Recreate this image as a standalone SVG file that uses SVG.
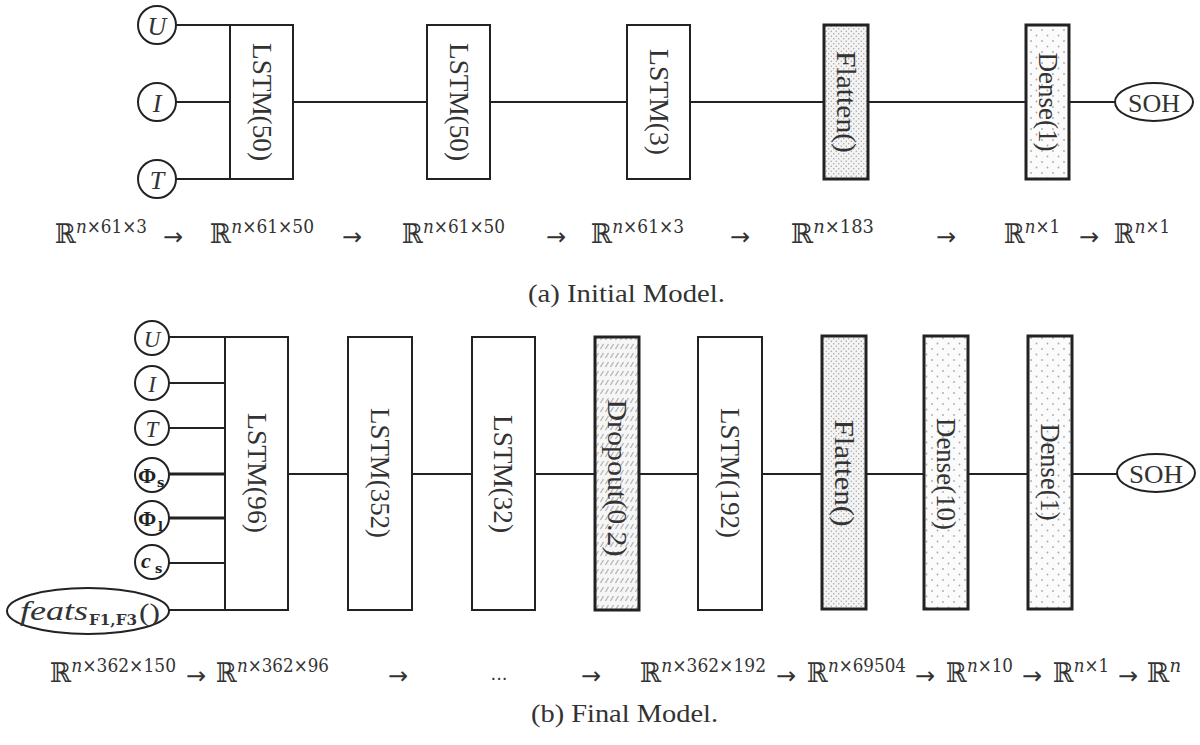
<svg xmlns="http://www.w3.org/2000/svg" width="1200" height="745" viewBox="0 0 1200 745">
<defs>
<style>
.box{fill:#fff;stroke:#222;stroke-width:2}
.thick{stroke-width:3}
.ln{stroke:#222;stroke-width:2;fill:none}
.lnb{stroke:#222;stroke-width:3.2;fill:none}
.circ{fill:#fff;stroke:#222;stroke-width:2}
.lbl{font-family:"Liberation Serif",serif;font-size:27px;fill:#333;text-anchor:middle;dominant-baseline:central}
.var{font-family:"Liberation Serif",serif;font-style:italic;font-size:26px;fill:#333;text-anchor:middle;dominant-baseline:central}
.soh{font-family:"Liberation Serif",serif;font-size:26px;fill:#333;text-anchor:middle;dominant-baseline:central}
.m{font-family:"DejaVu Serif",serif;font-size:18px;fill:#333}
.bb{font-family:"DejaVu Serif","DejaVu Sans",serif;font-size:27px}
.arr{font-family:"DejaVu Sans",sans-serif;font-size:24px;fill:#333;text-anchor:middle}
.cap{font-family:"Liberation Serif",serif;font-size:26px;fill:#333}
.phi{font-family:"Liberation Serif",serif;font-weight:bold;font-size:22px;fill:#222;text-anchor:middle}
.sub{font-family:"DejaVu Serif",serif;font-weight:bold;font-size:13px;fill:#222}
</style>
<pattern id="fine" width="5" height="5" patternUnits="userSpaceOnUse">
<rect width="5" height="5" fill="#f4f4f4"/>
<circle cx="1.25" cy="1.25" r="0.65" fill="#999"/>
<circle cx="3.75" cy="3.75" r="0.65" fill="#999"/>
</pattern>
<pattern id="sparse" width="11" height="11" patternUnits="userSpaceOnUse">
<rect width="11" height="11" fill="#fbfbfb"/>
<circle cx="2.5" cy="2.5" r="0.9" fill="#aaa"/>
<circle cx="8" cy="8" r="0.9" fill="#aaa"/>
</pattern>
<pattern id="hatch" width="5" height="9" patternUnits="userSpaceOnUse">
<rect width="5" height="9" fill="#f6f6f6"/>
<line x1="0.5" y1="7" x2="3.5" y2="2" stroke="#b5b5b5" stroke-width="1.3"/>
</pattern>
</defs>
<rect width="1200" height="745" fill="#fff"/>

<g id="connectors">
<line class="ln" x1="176" y1="25" x2="230" y2="25"/>
<line class="ln" x1="176" y1="102" x2="230" y2="102"/>
<line class="ln" x1="176" y1="179" x2="230" y2="179"/>
<line class="ln" x1="293" y1="102" x2="427" y2="102"/>
<line class="ln" x1="490" y1="102" x2="627" y2="102"/>
<line class="ln" x1="690" y1="102" x2="824" y2="102"/>
<line class="ln" x1="868" y1="102" x2="1026" y2="102"/>
<line class="ln" x1="1069" y1="102" x2="1115" y2="102"/>

<line class="ln" x1="169" y1="337" x2="225" y2="337"/>
<line class="ln" x1="169" y1="383" x2="225" y2="383"/>
<line class="ln" x1="169" y1="428" x2="225" y2="428"/>
<line class="lnb" x1="169" y1="474" x2="225" y2="474"/>
<line class="lnb" x1="169" y1="518" x2="225" y2="518"/>
<line class="ln" x1="169" y1="563" x2="225" y2="563"/>
<line class="ln" x1="169" y1="610" x2="225" y2="610"/>
<line class="ln" x1="288" y1="474" x2="348" y2="474"/>
<line class="ln" x1="412" y1="474" x2="472" y2="474"/>
<line class="ln" x1="535" y1="474" x2="595" y2="474"/>
<line class="ln" x1="639" y1="474" x2="698" y2="474"/>
<line class="ln" x1="762" y1="474" x2="822" y2="474"/>
<line class="ln" x1="866" y1="474" x2="924" y2="474"/>
<line class="ln" x1="968" y1="474" x2="1028" y2="474"/>
<line class="ln" x1="1072" y1="474" x2="1117" y2="474"/>
</g>

<g id="a-U"><circle class="circ" cx="157" cy="25" r="19"/><text class="var" x="157" y="26">U</text></g>
<g id="a-I"><circle class="circ" cx="157" cy="102" r="19"/><text class="var" x="157" y="103">I</text></g>
<g id="a-T"><circle class="circ" cx="157" cy="179" r="19"/><text class="var" x="157" y="180">T</text></g>
<g id="a-lstm1"><rect class="box" x="230" y="25" width="63" height="154"/><text class="lbl" transform="translate(262,102) rotate(90)" textLength="118" lengthAdjust="spacingAndGlyphs">LSTM(50)</text></g>
<g id="a-lstm2"><rect class="box" x="427" y="25" width="63" height="154"/><text class="lbl" transform="translate(459,102) rotate(90)" textLength="118" lengthAdjust="spacingAndGlyphs">LSTM(50)</text></g>
<g id="a-lstm3"><rect class="box" x="627" y="25" width="63" height="154"/><text class="lbl" transform="translate(659,102) rotate(90)" textLength="106" lengthAdjust="spacingAndGlyphs">LSTM(3)</text></g>
<g id="a-flatten"><rect class="box thick" x="824" y="25" width="44" height="154" style="fill:url(#fine)"/><text class="lbl" transform="translate(846,102) rotate(90)" textLength="102" lengthAdjust="spacingAndGlyphs">Flatten()</text></g>
<g id="a-dense1"><rect class="box thick" x="1026" y="25" width="43" height="154" style="fill:url(#sparse)"/><text class="lbl" transform="translate(1048,102) rotate(90)" textLength="99" lengthAdjust="spacingAndGlyphs">Dense(1)</text></g>
<g id="a-soh"><ellipse class="circ" cx="1154" cy="102" rx="39" ry="19"/><text class="soh" x="1154" y="103" textLength="52" lengthAdjust="spacingAndGlyphs">SOH</text></g>

<g id="a-shapes">
<text class="m" x="55" y="243" textLength="92" lengthAdjust="spacingAndGlyphs"><tspan class="bb">ℝ</tspan><tspan dy="-10" font-style="italic">n</tspan>×61×3</text>
<text class="arr" x="173" y="245">→</text>
<text class="m" x="210" y="243" textLength="104" lengthAdjust="spacingAndGlyphs"><tspan class="bb">ℝ</tspan><tspan dy="-10" font-style="italic">n</tspan>×61×50</text>
<text class="arr" x="352" y="245">→</text>
<text class="m" x="402" y="243" textLength="103" lengthAdjust="spacingAndGlyphs"><tspan class="bb">ℝ</tspan><tspan dy="-10" font-style="italic">n</tspan>×61×50</text>
<text class="arr" x="556" y="245">→</text>
<text class="m" x="591" y="243" textLength="93" lengthAdjust="spacingAndGlyphs"><tspan class="bb">ℝ</tspan><tspan dy="-10" font-style="italic">n</tspan>×61×3</text>
<text class="arr" x="740" y="245">→</text>
<text class="m" x="791" y="243" textLength="83" lengthAdjust="spacingAndGlyphs"><tspan class="bb">ℝ</tspan><tspan dy="-10" font-style="italic">n</tspan>×183</text>
<text class="arr" x="946" y="245">→</text>
<text class="m" x="1004" y="243" textLength="56" lengthAdjust="spacingAndGlyphs"><tspan class="bb">ℝ</tspan><tspan dy="-10" font-style="italic">n</tspan>×1</text>
<text class="arr" x="1089" y="245">→</text>
<text class="m" x="1114" y="243" textLength="56" lengthAdjust="spacingAndGlyphs"><tspan class="bb">ℝ</tspan><tspan dy="-10" font-style="italic">n</tspan>×1</text>
<text class="cap" x="528" y="302" textLength="197" lengthAdjust="spacingAndGlyphs">(a) Initial Model.</text>
</g>

<g id="b-U"><circle class="circ" cx="152" cy="338" r="17"/><text class="var" x="152" y="339" style="font-size:23px">U</text></g>
<g id="b-I"><circle class="circ" cx="152" cy="383" r="17"/><text class="var" x="152" y="384" style="font-size:23px">I</text></g>
<g id="b-T"><circle class="circ" cx="152" cy="428" r="17"/><text class="var" x="152" y="429" style="font-size:23px">T</text></g>
<g id="b-phis"><circle class="circ" cx="152" cy="475" r="17"/><text class="phi" x="147" y="483">Φ</text><text class="sub" x="157" y="487">s</text></g>
<g id="b-phil"><circle class="circ" cx="152" cy="518" r="17"/><text class="phi" x="147" y="526">Φ</text><text class="sub" x="158" y="531">l</text></g>
<g id="b-cs"><circle class="circ" cx="152" cy="562" r="17"/><text class="phi" x="146" y="568" style="font-style:italic">c</text><text class="sub" x="155" y="573">s</text></g>
<g id="b-feats"><ellipse class="circ" cx="88" cy="611" rx="81" ry="23"/>
<text x="20" y="620" style="font-family:'Liberation Serif',serif;font-style:italic;font-size:28px;fill:#333" textLength="68" lengthAdjust="spacingAndGlyphs">feats</text>
<text x="89" y="625" style="font-family:'DejaVu Serif',serif;font-weight:bold;font-size:15px;fill:#333" textLength="48" lengthAdjust="spacingAndGlyphs">F1,F3</text>
<text x="139" y="621" style="font-family:'Liberation Serif',serif;font-size:26px;fill:#333" textLength="21" lengthAdjust="spacingAndGlyphs">()</text></g>
<g id="b-lstm96"><rect class="box" x="225" y="337" width="63" height="273"/><text class="lbl" transform="translate(257,473) rotate(90)" textLength="120" lengthAdjust="spacingAndGlyphs">LSTM(96)</text></g>
<g id="b-lstm352"><rect class="box" x="348" y="337" width="64" height="273"/><text class="lbl" transform="translate(380,473) rotate(90)" textLength="130" lengthAdjust="spacingAndGlyphs">LSTM(352)</text></g>
<g id="b-lstm32"><rect class="box" x="472" y="337" width="63" height="273"/><text class="lbl" transform="translate(503,474) rotate(90)" textLength="118" lengthAdjust="spacingAndGlyphs">LSTM(32)</text></g>
<g id="b-dropout"><rect class="box thick" x="595" y="337" width="44" height="273" style="fill:url(#hatch)"/><text class="lbl" transform="translate(617,478) rotate(90)" textLength="157" lengthAdjust="spacingAndGlyphs">Dropout(0.2)</text></g>
<g id="b-lstm192"><rect class="box" x="698" y="337" width="64" height="273"/><text class="lbl" transform="translate(730,473) rotate(90)" textLength="130" lengthAdjust="spacingAndGlyphs">LSTM(192)</text></g>
<g id="b-flatten"><rect class="box thick" x="822" y="336" width="44" height="273" style="fill:url(#fine)"/><text class="lbl" transform="translate(844,473) rotate(90)" textLength="107" lengthAdjust="spacingAndGlyphs">Flatten()</text></g>
<g id="b-dense10"><rect class="box thick" x="924" y="336" width="44" height="273" style="fill:url(#sparse)"/><text class="lbl" transform="translate(946,474) rotate(90)" textLength="112" lengthAdjust="spacingAndGlyphs">Dense(10)</text></g>
<g id="b-dense1"><rect class="box thick" x="1028" y="336" width="44" height="273" style="fill:url(#sparse)"/><text class="lbl" transform="translate(1050,472) rotate(90)" textLength="97" lengthAdjust="spacingAndGlyphs">Dense(1)</text></g>
<g id="b-soh"><ellipse class="circ" cx="1156" cy="473" rx="39" ry="19"/><text class="soh" x="1156" y="474" textLength="54" lengthAdjust="spacingAndGlyphs">SOH</text></g>

<g id="b-shapes">
<text class="m" x="50" y="682" textLength="126" lengthAdjust="spacingAndGlyphs"><tspan class="bb">ℝ</tspan><tspan dy="-10" font-style="italic">n</tspan>×362×150</text>
<text class="arr" x="196" y="684">→</text>
<text class="m" x="216" y="682" textLength="113" lengthAdjust="spacingAndGlyphs"><tspan class="bb">ℝ</tspan><tspan dy="-10" font-style="italic">n</tspan>×362×96</text>
<text class="arr" x="398" y="684">→</text>
<text x="499" y="680" style="font-family:'DejaVu Sans',sans-serif;font-size:18px;fill:#333;text-anchor:middle">...</text>
<text class="arr" x="591" y="684">→</text>
<text class="m" x="640" y="682" textLength="126" lengthAdjust="spacingAndGlyphs"><tspan class="bb">ℝ</tspan><tspan dy="-10" font-style="italic">n</tspan>×362×192</text>
<text class="arr" x="786" y="684">→</text>
<text class="m" x="807" y="682" textLength="99" lengthAdjust="spacingAndGlyphs"><tspan class="bb">ℝ</tspan><tspan dy="-10" font-style="italic">n</tspan>×69504</text>
<text class="arr" x="925" y="684">→</text>
<text class="m" x="946" y="682" textLength="67" lengthAdjust="spacingAndGlyphs"><tspan class="bb">ℝ</tspan><tspan dy="-10" font-style="italic">n</tspan>×10</text>
<text class="arr" x="1032" y="684">→</text>
<text class="m" x="1053" y="682" textLength="56" lengthAdjust="spacingAndGlyphs"><tspan class="bb">ℝ</tspan><tspan dy="-10" font-style="italic">n</tspan>×1</text>
<text class="arr" x="1128" y="684">→</text>
<text class="m" x="1147" y="682"><tspan class="bb">ℝ</tspan><tspan dy="-10" font-style="italic">n</tspan></text>
<text class="cap" x="531" y="722" textLength="187" lengthAdjust="spacingAndGlyphs">(b) Final Model.</text>
</g>
</svg>
